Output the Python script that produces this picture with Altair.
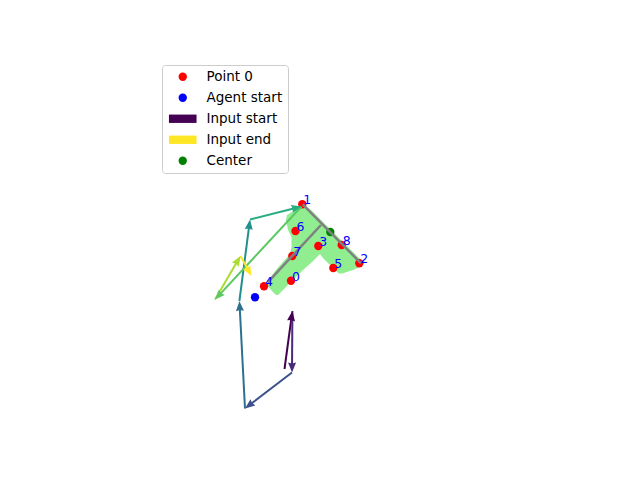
import altair as alt
import pandas as pd

# figure is drawn in screen units (x right, y down), axes hidden
X_DOM = [8, 628]
Y_DOM = [8, 468]

# numbered target points 0..8
pt_x = [291, 302.3, 359.3, 318.3, 264, 333.3, 295.5, 292.3, 341.7]
pt_y = [280.7, 204.3, 263.3, 246, 286.3, 268, 231, 256, 245]

agent_x, agent_y = 255, 297.3
center_x, center_y = 330.3, 232

# agent path, one arrow per input step
path_x = [284.5, 292.4, 292, 245, 239.4, 250, 301.5, 215, 240.5, 251.5]
path_y = [369, 311, 372.5, 408.5, 301, 219.5, 206.5, 299.5, 256, 276]
step_colors = ["#440154", "#472c7a", "#3b518b", "#2c718e", "#21908d",
               "#27ad81", "#5cc863", "#aadc32", "#fde725"]

# grey outline of the shape
seg_x1 = [302.7, 267.7]
seg_y1 = [204.3, 282.3]
seg_x2 = [361, 321]
seg_y2 = [263.3, 225]

# filled cells of the shape, as rows (y, left x, right x) per part
band_part = ["top"] * 8 + ["left"] * 7 + ["right"] * 7
band_y = [204.5, 210, 215, 220, 230, 237, 247, 254,
          254, 263, 270, 278, 284, 290, 295,
          254, 258, 262, 265, 268, 271, 273.5]
band_xl = [302, 295, 287, 286, 288, 291.5, 291.5, 290,
           290, 282, 276, 270, 266, 271, 276,
           320, 323, 327, 330, 333, 336, 339]
band_xr = [304, 311, 316, 321, 331, 338, 348, 355,
           320, 311, 303, 295, 289, 283, 278,
           355, 359, 365, 362, 358, 350, 342]

legend_kinds = ["Point 0", "Agent start", "Input start", "Input end", "Center"]
legend_colors = ["red", "blue", step_colors[0], step_colors[-1], "green"]
BAR = "M-3.3,-1H3.3V1H-3.3Z"
legend_shapes = ["circle", "circle", BAR, BAR, "circle"]

HEAD = "M0,-1L0.8,1L0,0.8L-0.8,1Z"

xs = alt.Scale(domain=X_DOM, nice=False, zero=False)
ys = alt.Scale(domain=Y_DOM, nice=False, zero=False, reverse=True)

band = pd.DataFrame({"part": band_part, "y": band_y, "xl": band_xl, "xr": band_xr})

points = pd.DataFrame({
    "x": pt_x + [agent_x, center_x, -50, -50],
    "y": pt_y + [agent_y, center_y, -50, -50],
    "kind": ["Point 0"] * len(pt_x) + ["Agent start", "Center", "Input start", "Input end"],
})

labels = pd.DataFrame({"x": pt_x, "y": pt_y, "t": [str(i) for i in range(len(pt_x))]})

segs = pd.DataFrame({"x": seg_x1, "y": seg_y1, "x2": seg_x2, "y2": seg_y2})

arrows = pd.DataFrame({
    "x": path_x[:-1], "y": path_y[:-1],
    "x2": path_x[1:], "y2": path_y[1:],
    "color": step_colors,
})

legend = alt.Legend(
    title=None, orient="none", legendX=154, legendY=57,
    padding=5, symbolOffset=9, labelOffset=17, rowPadding=6,
    symbolSize=70, symbolStrokeWidth=0,
    labelFont="DejaVu Sans", labelFontSize=13.5, labelColor="black",
    fillColor="rgba(255,255,255,0.8)", strokeColor="#cccccc", cornerRadius=3,
)

band_layer = alt.Chart(band).mark_area(orient="horizontal", color="#90ee90").encode(
    y=alt.Y("y:Q", scale=ys, axis=None),
    x=alt.X("xl:Q", scale=xs, axis=None),
    x2="xr:Q",
    detail="part:N",
)

point_layer = alt.Chart(points).mark_point(filled=True, size=70, opacity=1, clip=True).encode(
    x=alt.X("x:Q", scale=xs, axis=None),
    y=alt.Y("y:Q", scale=ys, axis=None),
    color=alt.Color("kind:N", scale=alt.Scale(domain=legend_kinds, range=legend_colors), legend=legend),
    shape=alt.Shape("kind:N", scale=alt.Scale(domain=legend_kinds, range=legend_shapes), legend=legend),
)

outline_layer = alt.Chart(segs).mark_rule(color="#808080", strokeWidth=2.5).encode(
    x=alt.X("x:Q", scale=xs, axis=None),
    y=alt.Y("y:Q", scale=ys, axis=None),
    x2="x2:Q",
    y2="y2:Q",
)

arrow_base = alt.Chart(arrows).transform_calculate(
    dx="datum.x2 - datum.x",
    dy="datum.y2 - datum.y",
).transform_calculate(
    len="sqrt(datum.dx * datum.dx + datum.dy * datum.dy)",
    ang="(atan2(datum.dx, -datum.dy) * 180 / PI + 360) % 360",
).transform_calculate(
    hx="datum.x2 - 5 * datum.dx / datum.len",
    hy="datum.y2 - 5 * datum.dy / datum.len",
)

shafts = arrow_base.mark_rule(strokeWidth=2).encode(
    x=alt.X("x:Q", scale=xs, axis=None),
    y=alt.Y("y:Q", scale=ys, axis=None),
    x2="hx:Q",
    y2="hy:Q",
    stroke=alt.Stroke("color:N", scale=None),
)

heads = arrow_base.mark_point(filled=True, size=100, shape=HEAD, opacity=1).encode(
    x=alt.X("hx:Q", scale=xs, axis=None),
    y=alt.Y("hy:Q", scale=ys, axis=None),
    angle=alt.Angle("ang:Q", scale=None),
    fill=alt.Fill("color:N", scale=None),
)

label_layer = alt.Chart(labels).mark_text(
    align="left", baseline="alphabetic", dx=1, color="blue",
    font="DejaVu Sans", fontSize=12.5,
).encode(
    x=alt.X("x:Q", scale=xs, axis=None),
    y=alt.Y("y:Q", scale=ys, axis=None),
    text="t:N",
)

chart = (
    alt.layer(band_layer, point_layer, outline_layer, shafts, heads, label_layer)
    .properties(width=620, height=460, padding=0)
    .configure_view(strokeWidth=0)
)

chart.save("out.html", embed_options={"renderer": "svg", "actions": False})
